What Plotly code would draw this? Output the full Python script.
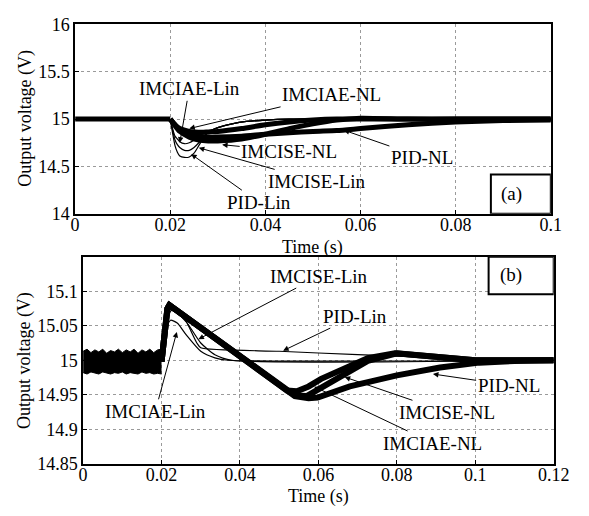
import plotly.graph_objects as go

# ---------------- Panel (a) data ----------------
ta_ss = [0, 0.004, 0.008, 0.012, 0.016, 0.02]
va_ss = [15.0, 15.0, 15.0, 15.0, 15.0, 15.0]

ta_nl = [0.02, 0.021, 0.022, 0.024, 0.026, 0.028, 0.03, 0.035, 0.04, 0.045, 0.05, 0.055, 0.06, 0.07, 0.08, 0.09, 0.1]
va_imcise_nl = [15.0, 14.93, 14.87, 14.81, 14.78, 14.77, 14.77, 14.79, 14.84, 14.90, 14.95, 14.99, 15.01, 15.0, 15.0, 15.0, 15.0]
va_pid_nl = [15.0, 14.94, 14.89, 14.84, 14.82, 14.81, 14.81, 14.82, 14.84, 14.855, 14.87, 14.88, 14.90, 14.94, 14.97, 14.985, 14.99]
va_imciae_nl = [15.0, 14.94, 14.90, 14.87, 14.86, 14.865, 14.87, 14.90, 14.94, 14.97, 14.99, 15.0, 15.0, 15.0, 15.0, 15.0, 15.0]

ta_lin = [0.02, 0.0205, 0.021, 0.0215, 0.022, 0.023, 0.024, 0.025, 0.026, 0.027, 0.028, 0.03, 0.033, 0.036, 0.04, 0.045, 0.1]
va_pid_lin = [15.0, 14.85, 14.72, 14.65, 14.61, 14.595, 14.60, 14.64, 14.72, 14.80, 14.86, 14.91, 14.95, 14.975, 14.99, 15.0, 15.0]
va_imcise_lin = [15.0, 14.88, 14.78, 14.73, 14.70, 14.67, 14.67, 14.70, 14.75, 14.81, 14.86, 14.91, 14.95, 14.975, 14.99, 15.0, 15.0]
va_imciae_lin = [15.0, 14.90, 14.82, 14.79, 14.76, 14.74, 14.75, 14.78, 14.82, 14.85, 14.87, 14.91, 14.95, 14.975, 14.99, 15.0, 15.0]

# ---------------- Panel (b) data ----------------
tb_rip = [0, 0.001, 0.002, 0.003, 0.004, 0.005, 0.006, 0.007, 0.008, 0.009, 0.010,
          0.011, 0.012, 0.013, 0.014, 0.015, 0.016, 0.017, 0.018, 0.019, 0.020]
vb_rip_hi = [15.013, 15.016, 15.011, 15.015, 15.012, 15.016, 15.010, 15.014, 15.012, 15.016, 15.011,
             15.015, 15.012, 15.016, 15.010, 15.015, 15.012, 15.016, 15.011, 15.015, 15.016]
vb_rip_lo = [14.982, 14.980, 14.983, 14.981, 14.980, 14.983, 14.981, 14.980, 14.982, 14.981, 14.983,
             14.980, 14.982, 14.981, 14.980, 14.983, 14.981, 14.982, 14.980, 14.981, 14.980]

tb_a = [0.02, 0.0215, 0.022, 0.03, 0.04, 0.05, 0.052, 0.0545, 0.0575, 0.0607, 0.068, 0.0726, 0.0795, 0.09, 0.1, 0.12]
vb_a = [14.998, 15.075, 15.08, 15.047, 15.005, 14.963, 14.956, 14.955, 14.962, 14.973, 14.992, 15.003, 15.010, 15.004, 15.0, 15.0]
tb_b = [0.02, 0.0215, 0.022, 0.03, 0.04, 0.05, 0.054, 0.057, 0.0662, 0.0726, 0.08, 0.09, 0.1, 0.12]
vb_b = [14.998, 15.075, 15.08, 15.047, 15.005, 14.963, 14.949, 14.948, 14.978, 14.999, 15.010, 15.004, 15.0, 15.0]
tb_c = [0.02, 0.0215, 0.022, 0.03, 0.04, 0.05, 0.054, 0.0575, 0.0598, 0.068, 0.08, 0.091, 0.101, 0.11, 0.12]
vb_c = [14.998, 15.075, 15.08, 15.047, 15.005, 14.963, 14.948, 14.945, 14.946, 14.962, 14.978, 14.9895, 14.9965, 14.999, 15.0]

tb_lin_ss = [0, 0.02]
vb_lin_ss = [15.0, 15.0]
tb_imciae_lin = [0.02, 0.021, 0.0223, 0.024, 0.0264, 0.03, 0.0336, 0.037, 0.12]
vb_imciae_lin = [15.0, 15.045, 15.058, 15.054, 15.036, 15.013, 15.0035, 15.0, 15.0]
tb_imcise_lin = [0.02, 0.021, 0.0225, 0.024, 0.0264, 0.03, 0.0336, 0.038, 0.12]
vb_imcise_lin = [15.0, 15.05, 15.072, 15.068, 15.055, 15.025, 15.008, 15.0, 15.0]
tb_pid_lin = [0.02, 0.021, 0.022, 0.024, 0.0264, 0.029, 0.03, 0.05, 0.07, 0.09, 0.11, 0.12]
vb_pid_lin = [15.0, 15.06, 15.08, 15.075, 15.055, 15.025, 15.018, 15.013, 15.008, 15.004, 15.001, 15.0]

xa_ticks = [0, 0.02, 0.04, 0.06, 0.08, 0.1]
xa_text = ["0", "0.02", "0.04", "0.06", "0.08", "0.1"]
ya_ticks = [14, 14.5, 15, 15.5, 16]
ya_text = ["14", "14.5", "15", "15.5", "16"]
xb_ticks = [0, 0.02, 0.04, 0.06, 0.08, 0.1, 0.12]
xb_text = ["0", "0.02", "0.04", "0.06", "0.08", "0.1", "0.12"]
yb_ticks = [14.85, 14.9, 14.95, 15, 15.05, 15.1]
yb_text = ["14.85", "14.9", "14.95", "15", "15.05", "15.1"]

FONT = "Liberation Serif, Times New Roman, serif"
FS = 19
FT = 18
W, H = 589, 516

fig = go.Figure()

def line(x, y, w, xa, ya, shape="spline"):
    fig.add_trace(go.Scatter(x=x, y=y, mode="lines", xaxis=xa, yaxis=ya,
                             line=dict(color="black", width=w, shape=shape, smoothing=0.6),
                             showlegend=False, hoverinfo="skip"))

# Panel (a)
for v in (va_pid_lin, va_imcise_lin, va_imciae_lin):
    line(ta_lin, v, 1.2, "x", "y")
for v in (va_imcise_nl, va_pid_nl, va_imciae_nl):
    line(ta_nl, v, 5, "x", "y")
line(ta_ss, va_ss, 5, "x", "y", "linear")

# Panel (b)
fig.add_trace(go.Scatter(x=tb_rip, y=vb_rip_lo, mode="lines", xaxis="x2", yaxis="y2",
                         line=dict(color="black", width=1), showlegend=False, hoverinfo="skip"))
fig.add_trace(go.Scatter(x=tb_rip, y=vb_rip_hi, mode="lines", xaxis="x2", yaxis="y2",
                         line=dict(color="black", width=1), fill="tonexty", fillcolor="black",
                         showlegend=False, hoverinfo="skip"))
line(tb_lin_ss, vb_lin_ss, 1.2, "x2", "y2", "linear")
for t, v in ((tb_imciae_lin, vb_imciae_lin), (tb_imcise_lin, vb_imcise_lin), (tb_pid_lin, vb_pid_lin)):
    line(t, v, 1.2, "x2", "y2")
for t, v in ((tb_a, vb_a), (tb_b, vb_b), (tb_c, vb_c)):
    line(t, v, 6, "x2", "y2", "linear")

axis_common = dict(showline=True, linecolor="black", linewidth=1.5, mirror=True,
                   ticks="inside", ticklen=4, tickcolor="black",
                   showgrid=True, gridcolor="#9a9a9a", gridwidth=1, griddash="dot",
                   zeroline=False, tickfont=dict(family=FONT, size=FT, color="black"))

def dx(p0, p1):
    return [p0 / W, p1 / W]

def dy(top, bot):
    return [1 - bot / H, 1 - top / H]

fig.update_layout(
    width=W, height=H, margin=dict(l=0, r=0, t=0, b=0),
    paper_bgcolor="white", plot_bgcolor="white",
    font=dict(family=FONT, size=FS, color="black"),
    xaxis=dict(domain=dx(72.7, 566), range=[0, 0.1], tickvals=xa_ticks, ticktext=xa_text,
               anchor="y", ticklabelstandoff=-6, **axis_common),
    yaxis=dict(domain=dy(15, 212), range=[14, 16], tickvals=ya_ticks, ticktext=ya_text,
               anchor="x", **axis_common),
    xaxis2=dict(domain=dx(81, 569), range=[0, 0.12], tickvals=xb_ticks, ticktext=xb_text,
                anchor="y2", ticklabelstandoff=-6, **axis_common),
    yaxis2=dict(domain=dy(256.7, 472), range=[14.85, 15.15], tickvals=yb_ticks, ticktext=yb_text,
                anchor="x2", **axis_common),
)

arrow = dict(showarrow=True, arrowhead=2, arrowsize=1.1, arrowwidth=1, arrowcolor="black",
             font=dict(family=FONT, size=FS, color="black"))

ann_a = [
    ("IMCIAE-Lin", 0.022, 14.75, 0.024, 15.32),
    ("IMCIAE-NL", 0.024, 14.90, 0.0538, 15.256),
    ("IMCISE-NL", 0.0309, 14.73, 0.045, 14.66),
    ("PID-NL", 0.0565, 14.883, 0.0729, 14.596),
    ("IMCISE-Lin", 0.026, 14.697, 0.0508, 14.342),
    ("PID-Lin", 0.0244, 14.63, 0.0386, 14.122),
]
for txt, x, y, ax, ay in ann_a:
    fig.add_annotation(text=txt, x=x, y=y, ax=ax, ay=ay, xref="x", yref="y",
                       axref="x", ayref="y", **arrow)

ann_b = [
    ("IMCISE-Lin", 0.0294, 15.0305, 0.0602, 15.122),
    ("PID-Lin", 0.051, 15.0138, 0.0694, 15.064),
    ("IMCIAE-Lin", 0.0239, 15.041, 0.0184, 14.926),
    ("PID-NL", 0.0892, 14.980, 0.1085, 14.964),
    ("IMCISE-NL", 0.0667, 14.9756, 0.0929, 14.9245),
    ("IMCIAE-NL", 0.0589, 14.9617, 0.0892, 14.880),
]
for txt, x, y, ax, ay in ann_b:
    fig.add_annotation(text=txt, x=x, y=y, ax=ax, ay=ay, xref="x2", yref="y2",
                       axref="x2", ayref="y2", **arrow)

fig.add_shape(type="rect", xref="x", yref="y", x0=0.0874, x1=0.1, y0=14.0, y1=14.416,
              line=dict(color="black", width=2), fillcolor="white", layer="above")
fig.add_annotation(text="(a)", x=0.0917, y=14.206, xref="x", yref="y", showarrow=False,
                   font=dict(family=FONT, size=FS, color="black"))
fig.add_shape(type="rect", xref="x2", yref="y2", x0=0.1034, x1=0.12, y0=15.0956, y1=15.15,
              line=dict(color="black", width=2), fillcolor="white", layer="above")
fig.add_annotation(text="(b)", x=0.1092, y=15.123, xref="x2", yref="y2", showarrow=False,
                   font=dict(family=FONT, size=FS, color="black"))

def ptxt(text, px, py, angle=0):
    fig.add_annotation(text=text, x=px / W, y=1 - py / H, xref="paper", yref="paper",
                       showarrow=False, textangle=angle, xanchor="center", yanchor="middle",
                       font=dict(family=FONT, size=FT, color="black"))

ptxt("Time (s)", 319, 247)
ptxt("Time (s)", 325, 506)
ptxt("Output voltage (V)", 21, 113, -90)
ptxt("Output voltage (V)", 21, 365, -90)

fig.write_html("out.html", config={"displayModeBar": False},
               post_script="document.body.style.margin='0px';")
